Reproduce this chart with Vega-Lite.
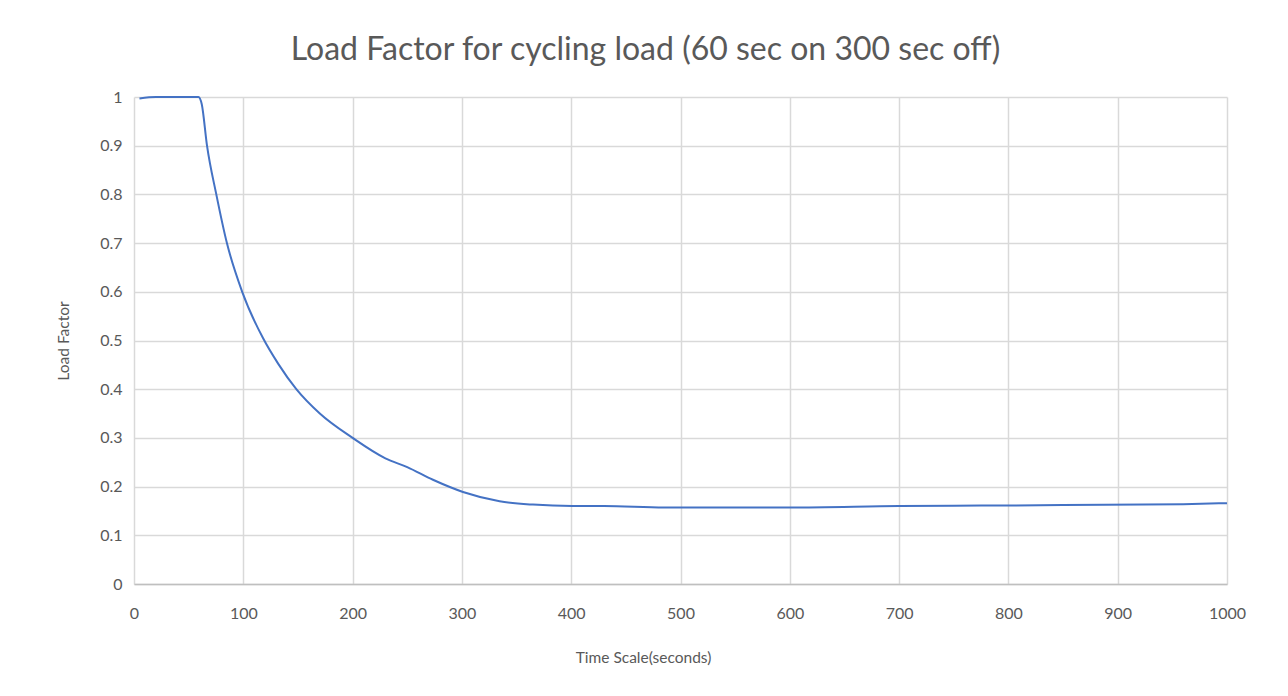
{
  "$schema": "https://vega.github.io/schema/vega-lite/v6.json",
  "width": 1093,
  "height": 487,
  "autosize": {"type": "none"},
  "padding": {"left": 134, "top": 97, "right": 61, "bottom": 112},
  "background": "white",
  "title": {
    "text": "Load Factor for cycling load (60 sec on 300 sec off)",
    "font": "Lato",
    "fontSize": 32,
    "fontWeight": "normal",
    "color": "#595959",
    "anchor": "middle",
    "dx": -35,
    "offset": 22
  },
  "config": {
    "view": {"stroke": null},
    "axis": {
      "labelFont": "Lato",
      "labelFontSize": 16,
      "labelColor": "#595959",
      "titleFont": "Lato",
      "titleFontSize": 15.5,
      "titleFontWeight": "normal",
      "titleColor": "#595959",
      "gridColor": "#d9d9d9",
      "gridWidth": 1.5,
      "ticks": false
    }
  },
  "data": {
    "values": [
      {"t": 5, "v": 0.997},
      {"t": 20, "v": 1.0},
      {"t": 59, "v": 1.0},
      {"t": 62, "v": 0.985},
      {"t": 66.8, "v": 0.9},
      {"t": 75.3, "v": 0.8},
      {"t": 85, "v": 0.7},
      {"t": 99, "v": 0.6},
      {"t": 118, "v": 0.505},
      {"t": 132, "v": 0.452},
      {"t": 148.5, "v": 0.4},
      {"t": 170, "v": 0.35},
      {"t": 200, "v": 0.3},
      {"t": 230, "v": 0.258},
      {"t": 250, "v": 0.24},
      {"t": 273.5, "v": 0.214},
      {"t": 301, "v": 0.189},
      {"t": 334.5, "v": 0.17},
      {"t": 365, "v": 0.163},
      {"t": 401, "v": 0.16},
      {"t": 430, "v": 0.16},
      {"t": 485, "v": 0.157},
      {"t": 600, "v": 0.157},
      {"t": 700, "v": 0.16},
      {"t": 775, "v": 0.161},
      {"t": 850, "v": 0.162},
      {"t": 960, "v": 0.164},
      {"t": 1000, "v": 0.166}
    ]
  },
  "mark": {"type": "line", "color": "#4472C4", "strokeWidth": 2, "interpolate": "monotone"},
  "encoding": {
    "x": {
      "field": "t",
      "type": "quantitative",
      "scale": {"domain": [0, 1000], "nice": false, "zero": true},
      "axis": {
        "title": "Time Scale(seconds)",
        "values": [0, 100, 200, 300, 400, 500, 600, 700, 800, 900, 1000],
        "format": "d",
        "labelFlush": false,
        "domainColor": "#bfbfbf",
        "domainWidth": 1.5,
        "labelPadding": 21,
        "titlePadding": 29,
        "titleX": 509,
        "titleAlign": "center"
      }
    },
    "y": {
      "field": "v",
      "type": "quantitative",
      "scale": {"domain": [0, 1], "nice": false},
      "axis": {
        "title": "Load Factor",
        "values": [0, 0.1, 0.2, 0.3, 0.4, 0.5, 0.6, 0.7, 0.8, 0.9, 1],
        "format": "~g",
        "labelFlush": false,
        "domain": false,
        "labelPadding": 12,
        "titlePadding": 28
      }
    }
  }
}
